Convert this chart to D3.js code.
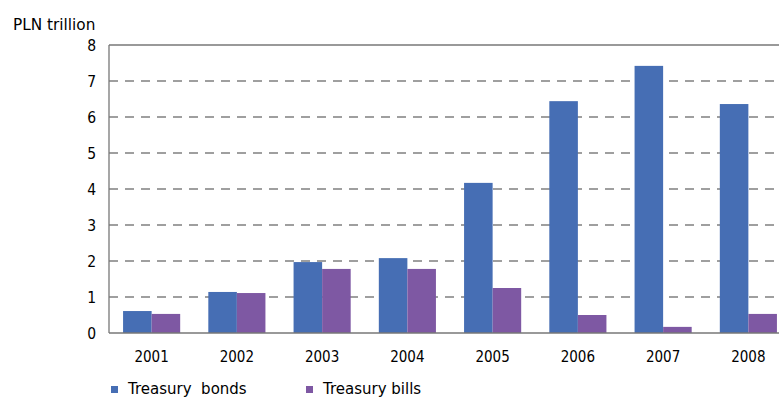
<!DOCTYPE html>
<html><head><meta charset="utf-8">
<script src="https://cdn.jsdelivr.net/npm/d3@7"></script>
<style>body{margin:0;background:#fff;overflow:hidden}svg{display:block}text{fill:#000}
.num{font-family:"DejaVu Sans Condensed","DejaVu Sans",sans-serif;font-stretch:condensed}
.lbl{font-family:"DejaVu Sans",sans-serif}</style>
</head><body>
<script>
const years = ["2001","2002","2003","2004","2005","2006","2007","2008"];
const bonds = [0.61, 1.14, 1.97, 2.08, 4.17, 6.44, 7.42, 6.36];
const bills = [0.53, 1.11, 1.78, 1.78, 1.25, 0.50, 0.17, 0.53];
const seriesNames = ["Treasury  bonds", "Treasury bills"];
const colors = ["#466EB4", "#7E58A3"];
const yTicks = [0,1,2,3,4,5,6,7,8];

const W = 779, H = 398;
const svg = d3.select("body").append("svg").attr("width", W).attr("height", H);
const pLeft = 109, pRight = 791, pTop = 45, pBottom = 333;

const x0 = d3.scaleBand().domain(years).range([pLeft, pRight]).paddingInner(0.33).paddingOuter(0.165);
const x1 = d3.scaleBand().domain([0,1]).range([0, x0.bandwidth()]);
const y = d3.scaleLinear().domain([0, 8]).range([pBottom, pTop]);

// gridlines
svg.append("g").selectAll("line").data(yTicks.filter(t => t > 0 && t < 8)).join("line")
  .attr("x1", pLeft).attr("x2", pRight).attr("y1", d => y(d)).attr("y2", d => y(d))
  .attr("stroke", "#808080").attr("stroke-width", 1.3).attr("stroke-dasharray", "9,7");
// top border
svg.append("line").attr("x1", pLeft).attr("x2", pRight).attr("y1", y(8)).attr("y2", y(8))
  .attr("stroke", "#777").attr("stroke-width", 1.3);

// bars
const series = [bonds, bills];
series.forEach((vals, si) => {
  svg.append("g").selectAll("rect").data(vals).join("rect")
    .attr("x", (d, i) => x0(years[i]) + x1(si))
    .attr("width", x1.bandwidth())
    .attr("y", d => y(d))
    .attr("height", d => y(0) - y(d))
    .attr("fill", colors[si]);
});

// axes lines
svg.append("line").attr("x1", pLeft).attr("x2", pLeft).attr("y1", y(8)).attr("y2", y(0))
  .attr("stroke", "#777").attr("stroke-width", 1.3);
svg.append("line").attr("x1", pLeft).attr("x2", pRight).attr("y1", y(0)).attr("y2", y(0))
  .attr("stroke", "#777").attr("stroke-width", 1.5);

// y labels
svg.append("g").selectAll("text").data(yTicks).join("text").attr("class", "num")
  .attr("x", 96).attr("y", d => y(d) + 6)
  .attr("text-anchor", "end").attr("font-size", 15.5).text(d => d);

// x labels
svg.append("g").selectAll("text").data(years).join("text").attr("class", "num")
  .attr("x", d => x0(d) + x0.bandwidth()/2).attr("y", 362)
  .attr("text-anchor", "middle").attr("font-size", 15).text(d => d);

// unit label
svg.append("text").attr("class", "lbl").attr("x", 13).attr("y", 30).attr("font-size", 15.3).text("PLN trillion");

// legend
const legX = [111, 306];
seriesNames.forEach((n, i) => {
  svg.append("rect").attr("x", legX[i]).attr("y", 386).attr("width", 7).attr("height", 7).attr("fill", colors[i]);
  svg.append("text").attr("class", "lbl").attr("x", legX[i] + 17).attr("y", 394).attr("font-size", 15)
    .style("white-space", "pre").text(n);
});
</script>
</body></html>
